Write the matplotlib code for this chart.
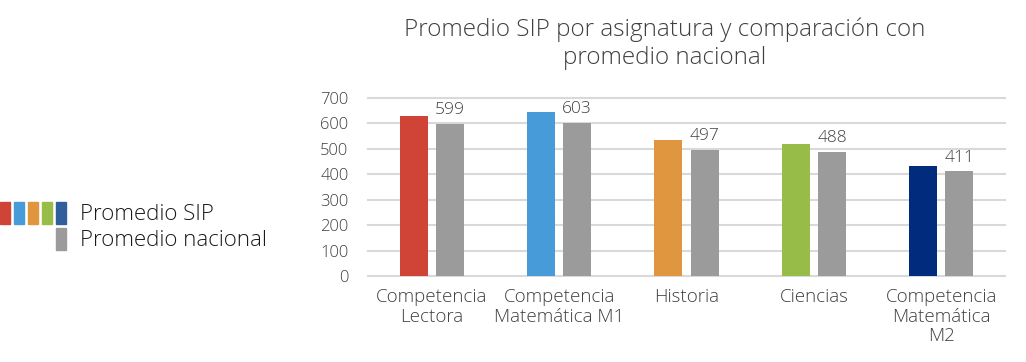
import matplotlib.pyplot as plt
from matplotlib.patches import Rectangle
import numpy as np

categories = ["Competencia\nLectora", "Competencia\nMatemática M1", "Historia",
              "Ciencias", "Competencia\nMatemática\nM2"]
sip_values = [630, 645, 535, 520, 433]
nacional_values = [599, 603, 497, 488, 411]
sip_colors = ["#d04337", "#479bd8", "#e0963f", "#97bd48", "#012c7d"]
gray = "#9b9b9b"
text_color = "#404040"

plt.rcParams['font.family'] = ['Open Sans', 'DejaVu Sans']
plt.rcParams['font.weight'] = 'light'

fig = plt.figure(figsize=(10.26, 3.62), dpi=100)
ax = fig.add_axes([368 / 1026, 1 - 276 / 362, 637 / 1026, 178 / 362])

x = np.arange(len(categories))
w = 0.22
off = 0.142
ax.bar(x - off, sip_values, w, color=sip_colors, zorder=3)
bars = ax.bar(x + off, nacional_values, w, color=gray, zorder=3)
for b, v in zip(bars, nacional_values):
    ax.annotate(str(v), (b.get_x() + b.get_width() / 2, v), xytext=(0, 4),
                textcoords="offset points", ha="center", va="bottom",
                fontsize=12.5, color=text_color)

ax.set_xlim(-0.5, len(categories) - 0.5)
ax.set_ylim(0, 700)
ax.set_yticks(range(0, 701, 100))
ax.grid(axis="y", color="#d9d9d9", linewidth=1.5, zorder=0)
ax.set_axisbelow(True)
for s in ax.spines.values():
    s.set_visible(False)
ax.tick_params(length=0, labelsize=12, colors=text_color, pad=14)
ax.tick_params(axis="x", pad=9)
ax.set_xticks(x)
ax.set_xticklabels(categories, fontsize=13.5, color=text_color, linespacing=1.1)
for line in ax.get_ygridlines():
    line.set_clip_on(False)

fig.text(665 / 1026, 1 - 44 / 362,
         "Promedio SIP por asignatura y comparación con\npromedio nacional",
         ha="center", va="center", fontsize=17.5, color=text_color, linespacing=1.2)

# legend drawn by hand: five colored squares for SIP, one gray for nacional
leg_colors = ["#d04337", "#479bd8", "#e0963f", "#97bd48", "#315f9b"]
for i, c in enumerate(leg_colors):
    fig.patches.append(Rectangle((i * 14 / 1026, 1 - 224 / 362), 10 / 1026, 22 / 362,
                                 color=c, transform=fig.transFigure))
fig.patches.append(Rectangle((56 / 1026, 1 - 250 / 362), 10 / 1026, 22 / 362,
                             color=gray, transform=fig.transFigure))
fig.text(80 / 1026, 1 - 215 / 362, "Promedio SIP", ha="left", va="center",
         fontsize=16, color="#1a1a1a")
fig.text(80 / 1026, 1 - 240 / 362, "Promedio nacional", ha="left", va="center",
         fontsize=16, color="#1a1a1a")

fig.savefig("out.png", dpi=100)
